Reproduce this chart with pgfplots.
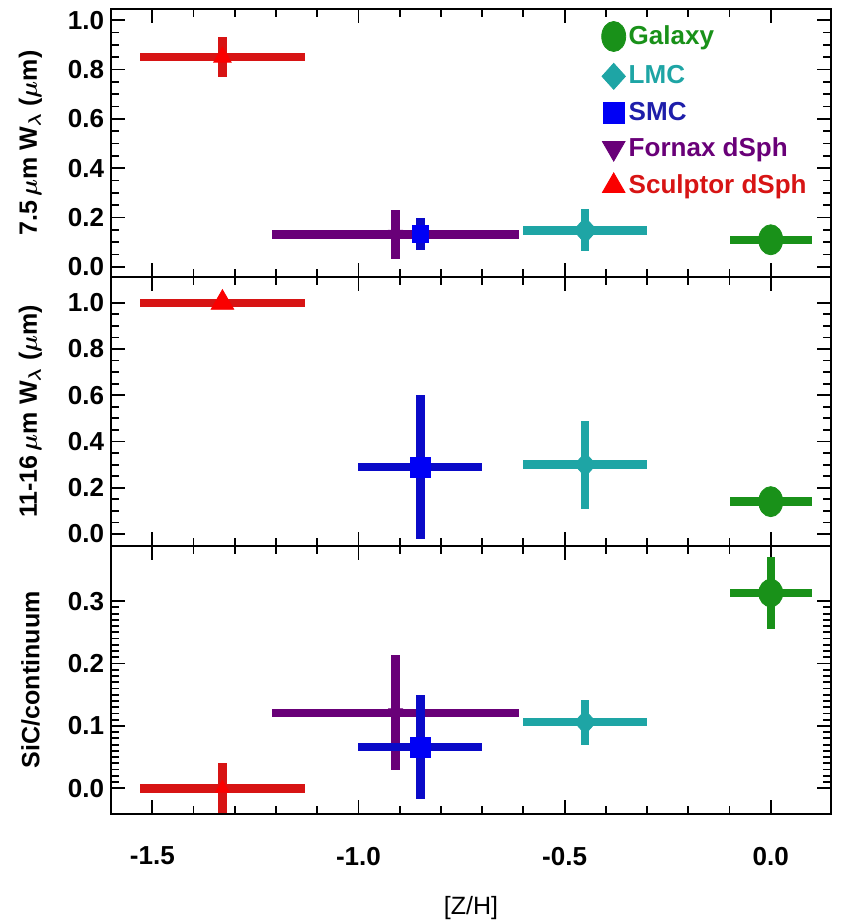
\documentclass[border=0pt]{standalone}
\usepackage{pgfplots}
\pgfplotsset{compat=1.18}
\usepackage{fontspec}
\setmainfont{Liberation Sans}
\definecolor{galgreen}{RGB}{25,145,25}
\definecolor{lmccyan}{RGB}{30,165,165}
\definecolor{smcbar}{RGB}{10,10,200}
\definecolor{smcmark}{RGB}{0,0,245}
\definecolor{smctext}{RGB}{30,30,170}
\definecolor{fnxpurple}{RGB}{105,0,120}
\definecolor{sclbar}{RGB}{215,20,20}
\definecolor{sclmark}{RGB}{250,0,0}
\pgfplotsset{
  panel/.style={
    scale only axis, width=359.5pt, height=134pt,
    xmin=-1.6, xmax=0.146,
    xtick={-1.5,-1.0,-0.5,0.0}, minor x tick num=4,
    tick align=inside, tick pos=both,
    major tick length=7pt, minor tick length=4pt,
    every tick/.style={black, line width=0.9pt},
    axis line style={line width=1pt},
    ticklabel style={font=\fontsize{13}{13}\selectfont\bfseries},
    /pgf/number format/.cd, fixed, fixed zerofill, precision=1, assume math mode=true,
    /pgfplots/.cd,
    y label style={at={(axis description cs:-0.112,0.5)}, anchor=center, font=\fontsize{12.5}{12.5}\selectfont\bfseries\boldmath},
    clip=true,
  },
  eb/.style={only marks, forget plot,
    error bars/.cd, x dir=both, x explicit, y dir=both, y explicit, error mark=none,
    error bar style={line width=4.2pt, color=#1, line cap=butt},
    /pgfplots/.cd},
}
\begin{document}
\begin{tikzpicture}
% ---------- Panel 1 ----------
\begin{axis}[panel, name=A, at={(0,0)}, anchor=north west,
  ymin=-0.042, ymax=1.045, ytick={0,0.2,0.4,0.6,0.8,1.0}, minor y tick num=3,
  xticklabels={},
  ylabel={7.5\,$\mu$m W$_\lambda$ ($\mu$m)},
  legend style={draw=none, fill=none, at={(rel axis cs:0.681,0.955)}, anchor=north west,
    font=\fontsize{13}{13}\selectfont\bfseries, row sep=5.9pt, inner sep=0pt,
    nodes={inner xsep=1.5pt, inner ysep=0.5pt}},
  legend cell align=left]
\addlegendimage{only marks, mark=*, mark size=6pt, color=galgreen, mark options={yscale=1.25}}
\addlegendentry{\textcolor{galgreen}{Galaxy}}
\addlegendimage{only marks, mark=diamond*, mark size=6.5pt, color=lmccyan, mark options={xscale=1.2}}
\addlegendentry{\textcolor{lmccyan}{LMC}}
\addlegendimage{only marks, mark=square*, mark size=5.2pt, color=smcmark}
\addlegendentry{\textcolor{smctext}{SMC}}
\addlegendimage{only marks, mark=triangle*, mark size=6.5pt, color=fnxpurple, mark options={rotate=180}}
\addlegendentry{\textcolor{fnxpurple}{Fornax dSph}}
\addlegendimage{only marks, mark=triangle*, mark size=6.5pt, color=sclmark}
\addlegendentry{\textcolor{sclbar}{Sculptor dSph}}
\addplot[eb=galgreen, mark=*, mark size=6pt, mark options={fill=galgreen, draw=galgreen, yscale=1.25}]
  coordinates {(0.0,0.110) +- (0.10,0)};
\addplot[eb=lmccyan, mark=diamond*, mark size=6.5pt, mark options={fill=lmccyan, draw=lmccyan, xscale=1.2}]
  coordinates {(-0.45,0.148) +- (0.15,0.085)};
\addplot[eb=fnxpurple, mark=triangle*, mark size=4pt, mark options={rotate=180, fill=fnxpurple, draw=fnxpurple}]
  coordinates {(-0.91,0.132) +- (0.30,0.100)};
\addplot[eb=smcbar, mark=square*, mark size=4.2pt, mark options={fill=smcmark, draw=smcmark}]
  coordinates {(-0.85,0.135) +- (0,0.065)};
\addplot[eb=sclbar, mark=triangle*, mark size=5pt, mark options={fill=sclmark, draw=sclmark}]
  coordinates {(-1.33,0.850) +- (0.20,0.080)};
\end{axis}
% ---------- Panel 2 ----------
\begin{axis}[panel, name=B, at={(A.south west)}, anchor=north west,
  ymin=-0.05, ymax=1.11, ytick={0,0.2,0.4,0.6,0.8,1.0}, minor y tick num=3,
  xticklabels={},
  ylabel={11-16\,$\mu$m W$_\lambda$ ($\mu$m)}]
\addplot[eb=galgreen, mark=*, mark size=6pt, mark options={fill=galgreen, draw=galgreen, yscale=1.25}]
  coordinates {(0.0,0.140) +- (0.10,0)};
\addplot[eb=lmccyan, mark=diamond*, mark size=6pt, mark options={fill=lmccyan, draw=lmccyan, xscale=1.2}]
  coordinates {(-0.45,0.300) +- (0.15,0.190)};
\addplot[eb=smcbar, mark=square*, mark size=5pt, mark options={fill=smcmark, draw=smcmark}]
  coordinates {(-0.85,0.290) +- (0.15,0.310)};
\addplot[eb=sclbar, mark=triangle*, mark size=6.5pt, mark options={fill=sclmark, draw=sclmark}]
  coordinates {(-1.33,1.000) +- (0.20,0)};
\end{axis}
% ---------- Panel 3 ----------
\begin{axis}[panel, name=C, at={(B.south west)}, anchor=north west,
  ymin=-0.041, ymax=0.389, ytick={0,0.1,0.2,0.3}, minor y tick num=9,
  xticklabel style={yshift=-13pt},
  xlabel={[Z/H]},
  x label style={at={(axis description cs:0.5,0)}, anchor=center, yshift=-47pt, font=\fontsize{12.5}{12.5}\selectfont},
  ylabel={SiC/continuum}]
\addplot[eb=galgreen, mark=*, mark size=6pt, mark options={fill=galgreen, draw=galgreen, yscale=1.15}]
  coordinates {(0.0,0.313) +- (0.10,0.058)};
\addplot[eb=lmccyan, mark=diamond*, mark size=6pt, mark options={fill=lmccyan, draw=lmccyan, xscale=1.2}]
  coordinates {(-0.45,0.106) +- (0.15,0.036)};
\addplot[eb=fnxpurple, mark=triangle*, mark size=4pt, mark options={rotate=180, fill=fnxpurple, draw=fnxpurple}]
  coordinates {(-0.91,0.121) +- (0.30,0.092)};
\addplot[eb=smcbar, mark=square*, mark size=5pt, mark options={fill=smcmark, draw=smcmark}]
  coordinates {(-0.85,0.066) +- (0.15,0.083)};
\addplot[eb=sclbar, mark=triangle*, mark size=4pt, mark options={fill=sclmark, draw=sclmark}]
  coordinates {(-1.33,0.000) +- (0.20,0.040)};
\end{axis}
\pgfresetboundingbox
\path ([shift={(-55.5pt,4.5pt)}]A.north west) rectangle ([shift={(5pt,-54.5pt)}]C.south east);
\end{tikzpicture}
\end{document}
